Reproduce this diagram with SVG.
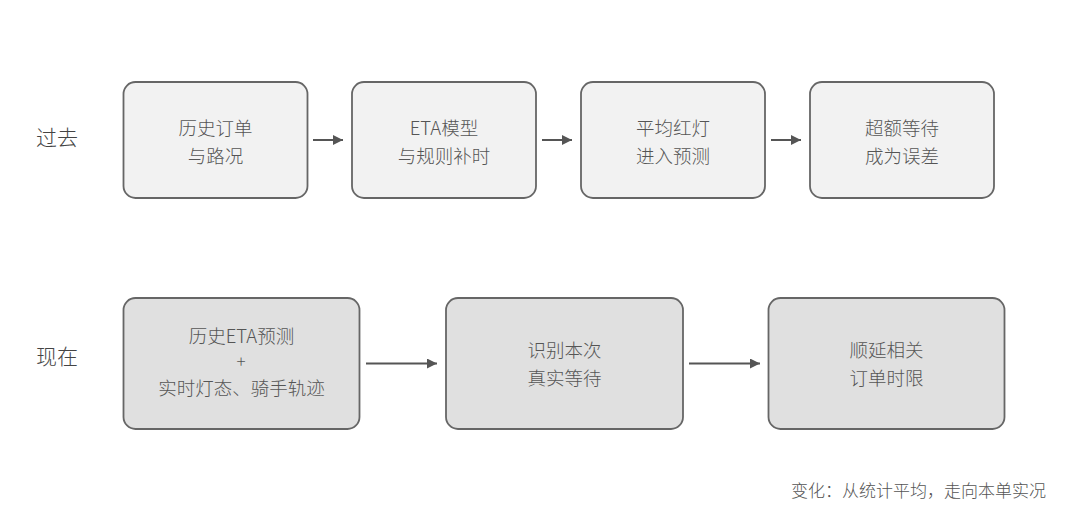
<svg xmlns="http://www.w3.org/2000/svg" width="1080" height="529" viewBox="0 0 1080 529">
<defs>
<style>
.t{font-family:"Noto Sans CJK SC","Noto Sans",sans-serif;font-weight:300;fill:#555;text-anchor:middle}
.n{font-size:18.5px}
.lab{font-size:21px;fill:#444;text-anchor:start}
.top{fill:#f2f2f2;stroke:#666;stroke-width:1.8}
.bot{fill:#e0e0e0;stroke:#666;stroke-width:1.8}
.c{stroke:#555;stroke-width:2;fill:none}
</style>
<marker id="ah" viewBox="0 0 10 10" refX="10" refY="5" markerWidth="5" markerHeight="5" orient="auto" markerUnits="strokeWidth">
<path d="M0,0 L10,5 L0,10 z" fill="#555"/>
</marker>
</defs>
<rect width="1080" height="529" fill="#fff"/>
<text class="t lab" x="36" y="145">过去</text>
<text class="t lab" x="36" y="364">现在</text>
<g id="n1"><rect class="top" x="123.5" y="82" width="184" height="116" rx="12"/><text class="t n" x="215.5" y="134.5">历史订单</text><text class="t n" x="215.5" y="162.5">与路况</text></g>
<g id="n2"><rect class="top" x="352" y="82" width="184" height="116" rx="12"/><text class="t n" x="444" y="134.5">ETA模型</text><text class="t n" x="444" y="162.5">与规则补时</text></g>
<g id="n3"><rect class="top" x="581" y="82" width="184" height="116" rx="12"/><text class="t n" x="673" y="134.5">平均红灯</text><text class="t n" x="673" y="162.5">进入预测</text></g>
<g id="n4"><rect class="top" x="810" y="82" width="184" height="116" rx="12"/><text class="t n" x="902" y="134.5">超额等待</text><text class="t n" x="902" y="162.5">成为误差</text></g>
<g id="m1"><rect class="bot" x="123.5" y="298" width="236" height="131" rx="12"/><text class="t n" x="241.5" y="343">历史ETA预测</text><text class="t" style="font-size:17px" x="241" y="368">+</text><text class="t n" x="241.5" y="395">实时灯态、骑手轨迹</text></g>
<g id="m2"><rect class="bot" x="446" y="298" width="237" height="131" rx="12"/><text class="t n" x="564.5" y="357">识别本次</text><text class="t n" x="564.5" y="385">真实等待</text></g>
<g id="m3"><rect class="bot" x="768.5" y="298" width="236" height="131" rx="12"/><text class="t n" x="886.5" y="357">顺延相关</text><text class="t n" x="886.5" y="385">订单时限</text></g>
<g id="connectors">
<line class="c" x1="313" y1="140" x2="343" y2="140" marker-end="url(#ah)"/>
<line class="c" x1="542" y1="140" x2="572" y2="140" marker-end="url(#ah)"/>
<line class="c" x1="771" y1="140" x2="801" y2="140" marker-end="url(#ah)"/>
<line class="c" x1="366" y1="363.5" x2="437" y2="363.5" marker-end="url(#ah)"/>
<line class="c" x1="689" y1="363.5" x2="760" y2="363.5" marker-end="url(#ah)"/>
</g>
<text class="t" style="font-size:17px;text-anchor:end" x="1046" y="497">变化：从统计平均，走向本单实况</text>
</svg>
